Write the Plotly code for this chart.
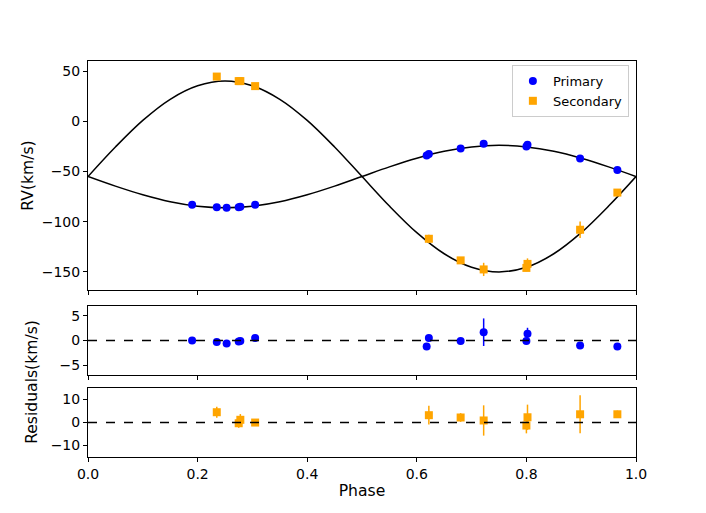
import plotly.graph_objects as go
from plotly.subplots import make_subplots

# model curves at steps of 0.05 in phase
model_phase = [0.0, 0.05, 0.1, 0.15, 0.2, 0.25, 0.3, 0.35, 0.4, 0.45, 0.5,
               0.55, 0.6, 0.65, 0.7, 0.75, 0.8, 0.85, 0.9, 0.95, 1.0]
model_primary = [-55, -64.6, -73.2, -80.1, -84.5, -86, -84.5, -80.1, -73.2, -64.6, -55,
                 -45.4, -36.8, -29.9, -25.5, -24, -25.5, -29.9, -36.8, -45.4, -55]
model_secondary = [-55, -25.6, 0.9, 21.9, 35.3, 40, 35.3, 21.9, 0.9, -25.6, -55,
                   -84.4, -110.9, -131.9, -145.3, -150, -145.3, -131.9, -110.9, -84.4, -55]

# primary star
p_phase = [0.19, 0.235, 0.253, 0.275, 0.278, 0.305, 0.618, 0.622, 0.68, 0.722, 0.80, 0.802, 0.898, 0.966]
p_rv = [-83, -85.5, -86, -85.5, -85, -83, -34, -32.5, -27, -22.5, -25, -23.5, -37, -48.5]
p_err = [0.4, 0.4, 0.4, 0.4, 0.4, 0.4, 0.6, 0.5, 0.4, 2.8, 0.4, 1.2, 0.4, 0.4]
p_res = [0.0, -0.3, -0.6, -0.2, -0.1, 0.5, -1.2, 0.5, -0.1, 1.7, -0.1, 1.4, -1.0, -1.2]

# secondary star
s_phase = [0.235, 0.275, 0.278, 0.305, 0.622, 0.68, 0.722, 0.80, 0.802, 0.898, 0.966]
s_rv = [44.5, 40, 40, 35, -117, -138.5, -147.5, -146, -142, -108, -71]
s_err = [2.4, 2.0, 2.5, 1.0, 4.1, 1.9, 6.6, 3.4, 5.5, 8.3, 1.6]
s_res = [4.5, -0.3, 1.2, 0.0, 3.2, 2.2, 0.9, -1.3, 2.3, 3.6, 3.6]

font = dict(family='DejaVu Sans', size=13, color='black')
tick_font = dict(family='DejaVu Sans', size=14, color='black')
label_font = dict(family='DejaVu Sans', size=15.6, color='black')

fig = make_subplots(rows=3, cols=1, shared_xaxes=True)

fig.add_trace(go.Scatter(x=model_phase, y=model_primary, mode='lines', line=dict(color='black', width=1.5, shape='spline'),
                         showlegend=False, hoverinfo='skip'), row=1, col=1)
fig.add_trace(go.Scatter(x=model_phase, y=model_secondary, mode='lines', line=dict(color='black', width=1.5, shape='spline'),
                         showlegend=False, hoverinfo='skip'), row=1, col=1)
fig.add_trace(go.Scatter(x=p_phase, y=p_rv, mode='markers', name='Primary',
                         marker=dict(color='blue', size=8, symbol='circle'),
                         error_y=dict(array=p_err, color='blue', thickness=1.5, width=0)), row=1, col=1)
fig.add_trace(go.Scatter(x=s_phase, y=s_rv, mode='markers', name='Secondary',
                         marker=dict(color='orange', size=8, symbol='square'),
                         error_y=dict(array=s_err, color='orange', thickness=1.5, width=0)), row=1, col=1)

fig.add_trace(go.Scatter(x=p_phase, y=p_res, mode='markers', showlegend=False,
                         marker=dict(color='blue', size=8, symbol='circle'),
                         error_y=dict(array=p_err, color='blue', thickness=1.5, width=0)), row=2, col=1)
fig.add_trace(go.Scatter(x=s_phase, y=s_res, mode='markers', showlegend=False,
                         marker=dict(color='orange', size=8, symbol='square'),
                         error_y=dict(array=s_err, color='orange', thickness=1.5, width=0)), row=3, col=1)

fig.add_hline(y=0, row=2, col=1, line=dict(color='black', dash='dash', width=1.5))
fig.add_hline(y=0, row=3, col=1, line=dict(color='black', dash='dash', width=1.5))

axis_style = dict(showline=True, linecolor='black', linewidth=1, mirror=True, ticks='outside',
                  ticklen=4, tickcolor='black', showgrid=False, zeroline=False, tickfont=tick_font,
                  automargin=False)

fig.update_xaxes(range=[0, 1], dtick=0.2, tickformat='.1f', **axis_style)
fig.update_xaxes(showticklabels=False, row=1, col=1)
fig.update_xaxes(showticklabels=False, row=2, col=1)
fig.update_xaxes(title=dict(text='Phase', font=label_font, standoff=4), row=3, col=1)

fig.update_yaxes(**axis_style)
fig.update_yaxes(range=[-168, 60], dtick=50, domain=[0.4217, 1.0],
                 title=dict(text='RV(km/s)', font=label_font, standoff=4), row=1, col=1)
fig.update_yaxes(range=[-7, 7], tickvals=[-5, 0, 5], domain=[0.207, 0.381], row=2, col=1)
fig.update_yaxes(range=[-15, 15], tickvals=[-10, 0, 10], domain=[0.0, 0.174], row=3, col=1)

fig.add_annotation(text='Residuals(km/s)', xref='paper', yref='paper', x=-0.102, y=0.19,
                   xanchor='center', yanchor='middle',
                   textangle=-90, showarrow=False, font=label_font)

# the page body adds 8px around the figure, so the figure is 8px smaller
fig.update_layout(
    width=698, height=505,
    margin=dict(l=80, r=70, t=53, b=56),
    plot_bgcolor='white', paper_bgcolor='white',
    font=font,
    legend=dict(x=0.987, y=0.99, xanchor='right', yanchor='top', bgcolor='rgba(255,255,255,0.8)',
                bordercolor='#cccccc', borderwidth=1, font=font),
)

fig.write_html("out.html")
